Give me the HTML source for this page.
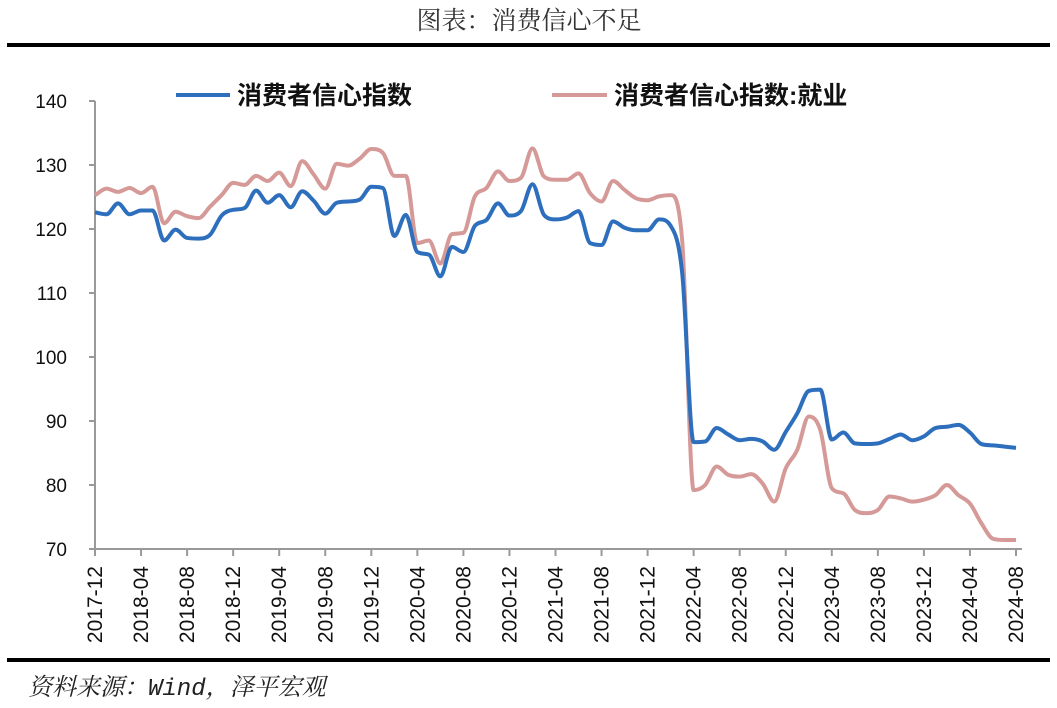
<!DOCTYPE html>
<html><head><meta charset="utf-8"><style>
body{margin:0;background:#fff;}
svg{display:block;}
</style></head><body>
<svg id="chart" width="1057" height="708" viewBox="0 0 1057 708" xmlns="http://www.w3.org/2000/svg">
<text x="529" y="29" text-anchor="middle" font-family="'Liberation Serif','Noto Serif CJK SC',serif" font-size="25" fill="#333">图表：消费信心不足</text>
<rect x="7" y="43" width="1043" height="4" fill="#000"/>
<rect x="7" y="658" width="1043" height="4" fill="#000"/>
<text x="28" y="695" font-family="'Liberation Mono','Noto Serif CJK SC',serif" font-style="italic" font-size="24" fill="#222">资料来源：Wind，泽平宏观</text>
<g>
<line x1="176" y1="95" x2="230" y2="95" stroke="#2e6fbd" stroke-width="4"/>
<text x="237" y="104" font-family="'Liberation Sans','Noto Sans CJK SC',sans-serif" font-weight="bold" font-size="25" fill="#111">消费者信心指数</text>
<line x1="552" y1="95" x2="607" y2="95" stroke="#d59a98" stroke-width="4"/>
<text x="614" y="104" font-family="'Liberation Sans','Noto Sans CJK SC',sans-serif" font-weight="bold" font-size="25" fill="#111">消费者信心指数:就业</text>
</g>
<g id="axes"></g>
<g id="series"></g>
</svg>
<script>
const months = [];
for (let i = 0; i <= 80; i++) { const t = 2017*12 + 11 + i; months.push(Math.floor(t/12) + '-' + String(t%12+1).padStart(2,'0')); }
const cciValues = [122.6,122.3,124.0,122.3,122.9,122.9,118.2,119.9,118.6,118.5,119.1,122.1,123.0,123.3,126.0,124.1,125.3,123.4,125.9,124.4,122.4,124.1,124.3,124.6,126.6,126.4,118.9,122.2,116.4,116.0,112.6,117.2,116.4,120.5,121.4,124.0,122.1,122.8,127.0,122.2,121.5,121.8,122.8,117.8,117.5,121.2,120.2,119.8,119.8,121.5,120.5,113.2,86.7,86.8,88.9,87.9,87.0,87.2,86.8,85.5,88.3,91.2,94.7,94.9,87.1,88.2,86.5,86.4,86.5,87.2,87.9,87.0,87.6,88.9,89.1,89.4,88.2,86.4,86.2,86.0,85.8];
const employmentValues = [125.3,126.3,125.8,126.4,125.6,126.6,120.9,122.7,122.0,121.7,123.5,125.3,127.2,126.9,128.3,127.5,128.8,126.7,130.6,128.5,126.3,130.2,129.9,131.0,132.5,131.9,128.3,128.3,117.8,118.2,114.6,119.2,119.4,125.1,126.4,129.0,127.5,128.0,132.6,128.2,127.7,127.7,128.7,125.6,124.3,127.5,126.1,124.8,124.5,125.1,125.3,118.3,79.2,80.0,82.9,81.6,81.3,81.7,80.2,77.4,82.6,85.5,90.7,88.6,79.5,78.7,76.1,75.6,76.1,78.2,77.9,77.4,77.7,78.4,80.0,78.4,77.1,74.0,71.6,71.4,71.4];
const yTicks = [70,80,90,100,110,120,130,140];

const X0=95, X1=1016, Y0=549, Y1=101, YMIN=70, YMAX=140;
const xs = i => X0 + (X1-X0)*i/(months.length-1);
const ys = v => Y0 - (Y0-Y1)*(v-YMIN)/(YMAX-YMIN);
const NS='http://www.w3.org/2000/svg';
const axes=document.getElementById('axes'), series=document.getElementById('series');
function mk(tag, attrs, parent){const e=document.createElementNS(NS,tag);for(const k in attrs)e.setAttribute(k,attrs[k]);parent.appendChild(e);return e;}

const yAxis = mk('line',{x1:X0,y1:Y1,x2:X0,y2:Y0,stroke:'#999','stroke-width':2},axes);


const xAxis = mk('line',{x1:X0,y1:Y0,x2:X1+6,y2:Y0,stroke:'#999','stroke-width':2},axes);


yTicks.forEach(v=>{
  const t=mk('line',{x1:X0-6,y1:ys(v),x2:X0,y2:ys(v),stroke:'#999','stroke-width':2},axes);
  
  
  const l=mk('text',{x:67,y:ys(v)+7,'text-anchor':'end','font-family':"'Liberation Sans',sans-serif",'font-size':19,fill:'#111'},axes);
  l.textContent=v;
  
  
});
months.forEach((m,i)=>{
  if(i%4!==0) return;
  const x=xs(i);
  const t=mk('line',{x1:x,y1:Y0,x2:x,y2:Y0+7,stroke:'#999','stroke-width':2},axes);
  
  
  const l=mk('text',{x:0,y:0,'text-anchor':'end','font-family':"'Liberation Sans',sans-serif",'font-size':21,fill:'#111',transform:`translate(${x+7},${Y0+17}) rotate(-90)`},axes);
  l.textContent=m;
  
  
});
function smoothPath(vals){
  const p=vals.map((v,i)=>[xs(i),ys(v)]);
  const n=p.length, h=p[1][0]-p[0][0];
  const d=[]; for(let i=0;i<n-1;i++) d.push((p[i+1][1]-p[i][1])/h);
  const m=new Array(n);
  m[0]=d[0]; m[n-1]=d[n-2];
  for(let i=1;i<n-1;i++){ m[i]=(d[i-1]*d[i]<=0)?0:(d[i-1]+d[i])/2; }
  for(let i=0;i<n-1;i++){
    if(d[i]===0){m[i]=0;m[i+1]=0;continue;}
    const a=m[i]/d[i], b=m[i+1]/d[i], s=a*a+b*b;
    if(s>9){const t=3/Math.sqrt(s); m[i]=t*a*d[i]; m[i+1]=t*b*d[i];}
  }
  let s=`M${p[0][0]},${p[0][1]}`;
  for(let i=0;i<n-1;i++){
    s+=` C${p[i][0]+h/3},${p[i][1]+m[i]*h/3} ${p[i+1][0]-h/3},${p[i+1][1]-m[i+1]*h/3} ${p[i+1][0]},${p[i+1][1]}`;
  }
  return s;
}
const pe=mk('path',{d:smoothPath(employmentValues),fill:'none',stroke:'#d59a98','stroke-width':4,'stroke-linejoin':'round'},series);


const pc=mk('path',{d:smoothPath(cciValues),fill:'none',stroke:'#2e6fbd','stroke-width':4,'stroke-linejoin':'round'},series);


</script>
</body></html>
